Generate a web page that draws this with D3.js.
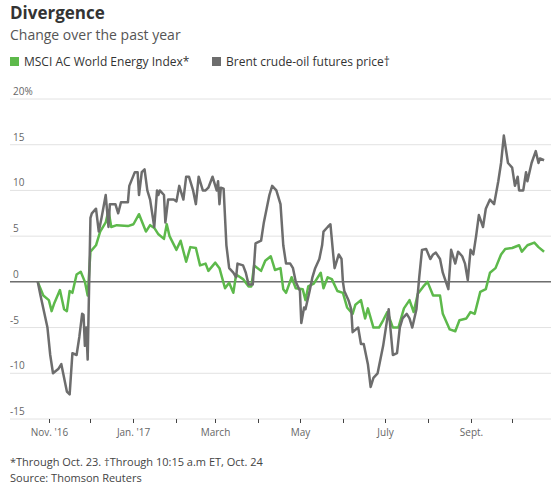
<!DOCTYPE html>
<html><head><meta charset="utf-8">
<script src="https://cdn.jsdelivr.net/npm/d3@7"></script>
<style>body{margin:0;background:#fff;font-family:"Open Sans","Noto Sans",sans-serif}</style>
</head><body><svg id="c" width="558" height="486"></svg>
<script>
var msci = [["2016-10-24",0],["2016-10-28",-1.5],["2016-11-01",-2],["2016-11-03",-3.2],["2016-11-05",-2.3],["2016-11-09",-0.9],["2016-11-12",-3],["2016-11-14",-3.2],["2016-11-16",-1],["2016-11-18",-1.2],["2016-11-21",0.8],["2016-11-24",1.1],["2016-11-27",0],["2016-11-29",-1.5],["2016-12-01",3.3],["2016-12-05",4],["2016-12-08",5.5],["2016-12-12",6.5],["2016-12-14",7.8],["2016-12-16",6],["2016-12-20",6.2],["2016-12-28",6.1],["2017-01-01",6.3],["2017-01-05",7.4],["2017-01-10",5.5],["2017-01-13",6.2],["2017-01-16",5.9],["2017-01-19",5.2],["2017-01-23",4.7],["2017-01-25",6.3],["2017-01-27",5],["2017-02-01",3.5],["2017-02-04",4.5],["2017-02-08",2.2],["2017-02-11",3.8],["2017-02-15",3.7],["2017-02-18",1.8],["2017-02-22",2],["2017-02-24",1.2],["2017-03-01",2.1],["2017-03-04",1.5],["2017-03-08",-0.7],["2017-03-11",-0.1],["2017-03-14",-1.2],["2017-03-16",0.8],["2017-03-21",0.3],["2017-03-25",-0.5],["2017-03-27",-0.5],["2017-03-29",1.8],["2017-04-03",1.2],["2017-04-06",2.3],["2017-04-10",2.8],["2017-04-13",1.3],["2017-04-17",1.5],["2017-04-19",-0.8],["2017-04-21",-1.2],["2017-04-25",0.5],["2017-04-28",-0.7],["2017-05-03",-0.8],["2017-05-05",-2],["2017-05-07",-0.5],["2017-05-11",-0.2],["2017-05-16",1],["2017-05-18",-0.7],["2017-05-21",0.5],["2017-05-24",0.3],["2017-05-28",-1],["2017-06-01",-1.2],["2017-06-04",-2.8],["2017-06-08",-3.5],["2017-06-10",-2.5],["2017-06-14",-2],["2017-06-17",-4],["2017-06-19",-2.9],["2017-06-23",-5],["2017-06-27",-5],["2017-06-30",-4.2],["2017-07-03",-3.3],["2017-07-07",-5],["2017-07-11",-5],["2017-07-15",-2.9],["2017-07-19",-2],["2017-07-22",-3.3],["2017-07-25",-1.3],["2017-07-29",-0.5],["2017-08-01",0],["2017-08-05",-1.5],["2017-08-10",-1.5],["2017-08-12",-3.5],["2017-08-17",-5.2],["2017-08-21",-5.4],["2017-08-24",-4.2],["2017-08-29",-4],["2017-09-01",-3.3],["2017-09-04",-3.5],["2017-09-08",-1.1],["2017-09-12",-0.8],["2017-09-15",1],["2017-09-19",1.5],["2017-09-23",3],["2017-09-26",3.6],["2017-10-01",3.7],["2017-10-06",4],["2017-10-08",3.3],["2017-10-12",4],["2017-10-17",4.3],["2017-10-20",3.8],["2017-10-24",3.3]];

var brent = [["2016-10-24",0],["2016-10-26",-1.5],["2016-10-31",-5],["2016-11-02",-8],["2016-11-04",-10],["2016-11-08",-9.5],["2016-11-10",-9],["2016-11-14",-12],["2016-11-16",-12.3],["2016-11-18",-7.8],["2016-11-21",-8],["2016-11-23",-6],["2016-11-25",-3.5],["2016-11-26",-3.6],["2016-11-27",-7],["2016-11-28",-5],["2016-11-29",-8.5],["2016-12-01",7],["2016-12-02",7.5],["2016-12-05",8],["2016-12-07",5.5],["2016-12-09",7],["2016-12-12",9.5],["2016-12-14",6],["2016-12-15",8.5],["2016-12-19",8.5],["2016-12-21",7.5],["2016-12-23",8.7],["2016-12-28",8.7],["2016-12-29",10.5],["2017-01-02",12],["2017-01-04",12],["2017-01-05",9.5],["2017-01-07",12],["2017-01-09",12.3],["2017-01-11",10],["2017-01-13",9],["2017-01-16",6],["2017-01-18",10],["2017-01-19",9.5],["2017-01-20",10],["2017-01-23",9.5],["2017-01-24",6.5],["2017-01-26",9],["2017-01-30",9],["2017-02-01",8.8],["2017-02-03",10.5],["2017-02-06",9],["2017-02-08",11.5],["2017-02-10",11.5],["2017-02-13",10],["2017-02-15",8.5],["2017-02-17",11.5],["2017-02-20",10],["2017-02-22",10],["2017-02-24",10.3],["2017-02-27",11.5],["2017-03-01",10.5],["2017-03-02",10],["2017-03-03",11],["2017-03-04",8.5],["2017-03-05",10.3],["2017-03-07",10.2],["2017-03-09",4],["2017-03-11",1.5],["2017-03-14",1],["2017-03-16",0.5],["2017-03-17",2],["2017-03-21",1.8],["2017-03-23",1],["2017-03-25",-0.3],["2017-03-28",-0.3],["2017-03-30",4.2],["2017-04-03",4.5],["2017-04-05",6.5],["2017-04-07",8],["2017-04-09",9.5],["2017-04-11",10.5],["2017-04-14",10],["2017-04-17",8.5],["2017-04-19",4],["2017-04-21",2],["2017-04-24",2],["2017-04-26",1.5],["2017-04-28",0],["2017-05-01",-1],["2017-05-02",-4.5],["2017-05-04",-2.8],["2017-05-05",-3],["2017-05-08",-1],["2017-05-10",0.5],["2017-05-12",1.5],["2017-05-15",2.5],["2017-05-17",4],["2017-05-18",5.5],["2017-05-21",6],["2017-05-23",6.3],["2017-05-25",3],["2017-05-26",1.5],["2017-05-29",3],["2017-05-31",2.5],["2017-06-01",0],["2017-06-02",-1],["2017-06-05",-2],["2017-06-07",-3],["2017-06-08",-5.5],["2017-06-12",-5],["2017-06-14",-6.8],["2017-06-16",-6.8],["2017-06-19",-9],["2017-06-21",-11.5],["2017-06-23",-10.5],["2017-06-26",-10],["2017-06-28",-8.5],["2017-06-30",-7],["2017-07-02",-5],["2017-07-04",-3],["2017-07-07",-8],["2017-07-10",-7.8],["2017-07-12",-5],["2017-07-14",-4],["2017-07-17",-3.5],["2017-07-19",-4],["2017-07-21",-5],["2017-07-24",-3],["2017-07-26",0.5],["2017-07-28",3.5],["2017-07-31",3.6],["2017-08-03",2.5],["2017-08-05",3],["2017-08-07",3.2],["2017-08-10",2.5],["2017-08-12",1],["2017-08-16",-0.8],["2017-08-18",3.5],["2017-08-21",2],["2017-08-23",3.3],["2017-08-26",2.8],["2017-08-28",2],["2017-08-30",0.2],["2017-09-01",3.5],["2017-09-03",3],["2017-09-05",5],["2017-09-07",7.3],["2017-09-10",6],["2017-09-12",8],["2017-09-15",9],["2017-09-18",8.5],["2017-09-21",11],["2017-09-23",13],["2017-09-25",16],["2017-09-28",13],["2017-10-01",12.5],["2017-10-03",10.5],["2017-10-05",11.5],["2017-10-06",10],["2017-10-09",10],["2017-10-11",12],["2017-10-12",11],["2017-10-15",13],["2017-10-18",14.3],["2017-10-20",13],["2017-10-21",13.5],["2017-10-24",13.3]];

var yTicks = [20, 15, 10, 5, 0, -5, -10, -15];
var xTicks = ["2016-11-01","2016-12-01","2017-01-01","2017-02-01","2017-03-01","2017-04-01","2017-05-01","2017-06-01","2017-07-01","2017-08-01","2017-09-01","2017-10-01"];
var xLabels = {"2016-11-01":"Nov. '16","2017-01-01":"Jan. '17","2017-03-01":"March","2017-05-01":"May","2017-07-01":"July","2017-09-01":"Sept."};

var parse = d3.timeParse("%Y-%m-%d");
var svg = d3.select("#c");
var x = d3.scaleTime().domain([parse("2016-10-04"), parse("2017-10-29")]).range([10, 551]);
var y = d3.scaleLinear().domain([-15, 20]).range([419, 99]);

// title block
svg.append("text").attr("x", 10).attr("y", 19).attr("font-size", 17).attr("font-weight", "bold").attr("fill", "#333").text("Divergence");
svg.append("text").attr("x", 10).attr("y", 40).attr("font-size", 14).attr("fill", "#555").text("Change over the past year");

var legend = [["MSCI AC World Energy Index*", "#5db94b", 10], ["Brent crude-oil futures price\u2020", "#6d6d6d", 212]];
legend.forEach(function (l) {
  svg.append("rect").attr("x", l[2]).attr("y", 57).attr("width", 9).attr("height", 9).attr("fill", l[1]);
  svg.append("text").attr("x", l[2] + 14).attr("y", 66).attr("font-size", 12).attr("fill", "#333").text(l[0]);
});

// gridlines + y labels
yTicks.forEach(function (t) {
  svg.append("line").attr("x1", 10).attr("x2", 551).attr("y1", y(t)).attr("y2", y(t))
    .attr("stroke", t === 0 ? "#222" : "#e2e2e2").attr("stroke-width", 1);
  svg.append("text").attr("x", t < 0 ? 10 : 13).attr("y", y(t) - 4).attr("font-size", 10).attr("fill", "#666")
    .text(t === 20 ? "20%" : t);
});

// x axis ticks
xTicks.forEach(function (t) {
  var xp = Math.round(x(parse(t))) + 0.5;
  svg.append("line").attr("x1", xp).attr("x2", xp).attr("y1", 419).attr("y2", 423).attr("stroke", "#444");
  if (xLabels[t]) {
    svg.append("text").attr("x", xp).attr("y", 436).attr("text-anchor", "middle").attr("font-size", 10).attr("fill", "#666").text(xLabels[t]);
  }
});

var line = d3.line().x(function (d) { return x(parse(d[0])); }).y(function (d) { return y(d[1]); });
svg.append("path").datum(msci).attr("d", line).attr("fill", "none").attr("stroke", "#5db94b").attr("stroke-width", 2.5).attr("stroke-linejoin", "round");
svg.append("path").datum(brent).attr("d", line).attr("fill", "none").attr("stroke", "#6d6d6d").attr("stroke-width", 2.5).attr("stroke-linejoin", "round");

svg.append("text").attr("x", 10).attr("y", 466).attr("font-size", 11).attr("fill", "#444").text("*Through Oct. 23. \u2020Through 10:15 a.m ET, Oct. 24");
svg.append("text").attr("x", 10).attr("y", 482).attr("font-size", 11).attr("fill", "#444").text("Source: Thomson Reuters");
</script></body></html>
